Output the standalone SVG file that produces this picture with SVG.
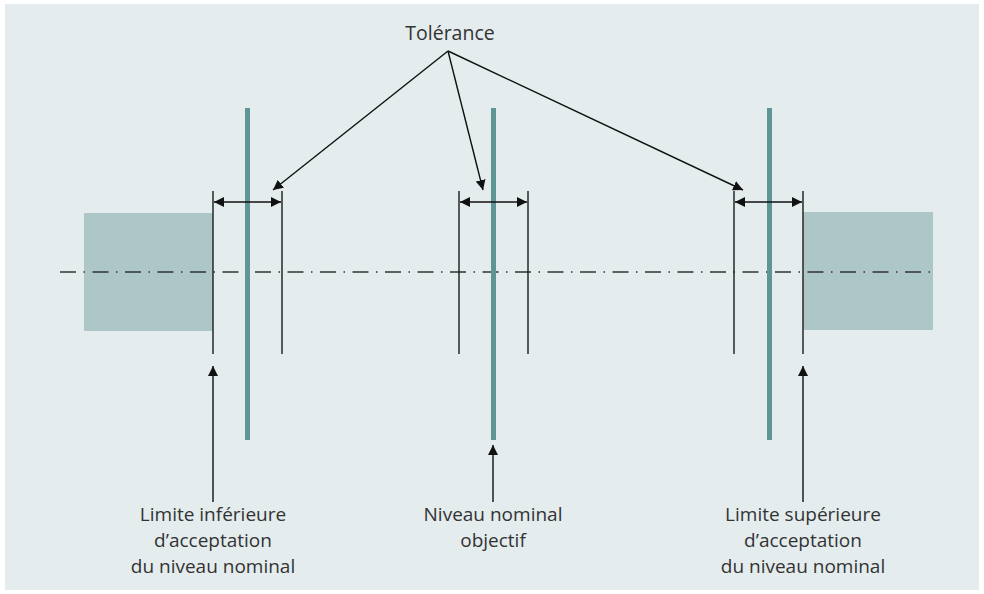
<svg xmlns="http://www.w3.org/2000/svg" width="984" height="594" viewBox="0 0 984 594">
  <defs>
    <marker id="head" viewBox="0 0 10 10" refX="10" refY="5" markerWidth="10" markerHeight="10" markerUnits="userSpaceOnUse" orient="auto-start-reverse">
      <path d="M0,0 L10,5 L0,10 z" fill="#111"/>
    </marker>
    <style>
      .panel { fill: #e4ecee; }
      .zone { fill: #adc6c7; }
      .nominal { fill: #5e9595; }
      .limit { stroke: #1a1a1a; stroke-width: 1.4; fill: none; }
      .axis { stroke: #333; stroke-width: 1.3; stroke-dasharray: 16 7.5 1.5 7.5; fill: none; }
      .arrow { stroke: #111; stroke-width: 1.4; fill: none; }
      .label { font-family: "Open Sans", "Noto Sans", sans-serif; font-size: 19px; fill: #333; text-anchor: middle; }
      .title { font-size: 19.5px; }
    </style>
  </defs>

  <rect x="0" y="0" width="984" height="594" fill="#ffffff"/>
  <rect class="panel" x="5" y="4" width="974" height="586"/>

  <!-- rejected zones outside the acceptance limits -->
  <g id="zone-low"><rect class="zone" x="84" y="213" width="129" height="118"/></g>
  <g id="zone-high"><rect class="zone" x="803" y="212" width="130" height="118"/></g>

  <!-- centre axis -->
  <line class="axis" x1="60" y1="272" x2="934" y2="272"/>

  <!-- lower acceptance limit -->
  <g id="limit-low">
    <line class="limit" x1="213" y1="191" x2="213" y2="354"/>
    <line class="limit" x1="282" y1="191" x2="282" y2="354"/>
    <rect class="nominal" x="245" y="108" width="5" height="332"/>
  </g>

  <!-- nominal target -->
  <g id="target">
    <line class="limit" x1="459" y1="191" x2="459" y2="354"/>
    <line class="limit" x1="528" y1="191" x2="528" y2="354"/>
    <rect class="nominal" x="491" y="108" width="5" height="332"/>
  </g>

  <!-- upper acceptance limit -->
  <g id="limit-high">
    <line class="limit" x1="734" y1="191" x2="734" y2="354"/>
    <line class="limit" x1="803" y1="191" x2="803" y2="354"/>
    <rect class="nominal" x="767" y="108" width="5" height="332"/>
  </g>

  <g id="connectors">
    <!-- tolerance bands -->
    <line class="arrow" x1="214" y1="202" x2="281" y2="202" marker-start="url(#head)" marker-end="url(#head)"/>
    <line class="arrow" x1="460" y1="202" x2="527" y2="202" marker-start="url(#head)" marker-end="url(#head)"/>
    <line class="arrow" x1="735" y1="202" x2="802" y2="202" marker-start="url(#head)" marker-end="url(#head)"/>
    <!-- tolerance callouts -->
    <line class="arrow" x1="448" y1="51" x2="273" y2="190" marker-end="url(#head)"/>
    <line class="arrow" x1="448" y1="51" x2="483" y2="190" marker-end="url(#head)"/>
    <line class="arrow" x1="448" y1="51" x2="743" y2="190" marker-end="url(#head)"/>
    <!-- label pointers -->
    <line class="arrow" x1="213" y1="502" x2="213" y2="366" marker-end="url(#head)"/>
    <line class="arrow" x1="493" y1="502" x2="493" y2="445" marker-end="url(#head)"/>
    <line class="arrow" x1="803" y1="502" x2="803" y2="366" marker-end="url(#head)"/>
  </g>

  <g id="label-tolerance"><text class="label title" x="450" y="40">Tolérance</text></g>
  <g id="label-low">
    <text class="label" x="213" y="521">Limite inférieure</text>
    <text class="label" x="213" y="547">d’acceptation</text>
    <text class="label" x="213" y="573">du niveau nominal</text>
  </g>
  <g id="label-target">
    <text class="label" x="493" y="521">Niveau nominal</text>
    <text class="label" x="493" y="547">objectif</text>
  </g>
  <g id="label-high">
    <text class="label" x="803" y="521">Limite supérieure</text>
    <text class="label" x="803" y="547">d’acceptation</text>
    <text class="label" x="803" y="573">du niveau nominal</text>
  </g>
</svg>
